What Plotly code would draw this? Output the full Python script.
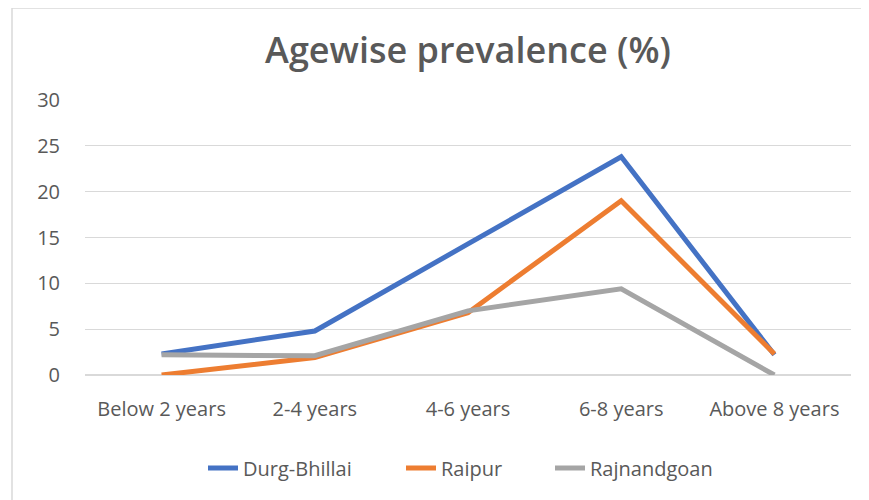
import plotly.graph_objects as go

categories = ["Below 2 years", "2-4 years", "4-6 years", "6-8 years", "Above 8 years"]
durg_bhillai = [2.3, 4.8, 14.3, 23.8, 2.2]
raipur = [0.0, 1.9, 6.8, 19.0, 2.3]
rajnandgoan = [2.2, 2.1, 7.0, 9.4, 0.0]

series = [("Durg-Bhillai", durg_bhillai, "#4472C4", "legend"),
          ("Raipur", raipur, "#ED7D31", "legend2"),
          ("Rajnandgoan", rajnandgoan, "#A5A5A5", "legend3")]

fig = go.Figure()
for name, vals, col, leg in series:
    fig.add_trace(go.Scatter(x=categories, y=vals, mode="lines", name=name, legend=leg,
                             line=dict(color=col, width=5)))

# page is offset 8px by body margin; layout numbers are in figure coordinates
W, H = 869, 500
ml, mr, mt, mb = 77, 26, 92, 133
pw, ph = W - ml - mr, H - mt - mb
FONT = "Open Sans, Lato, sans-serif"

leg_y = -(460 - (H - mb)) / ph
def legend_at(left_px):
    return dict(orientation="h", x=(left_px - ml) / pw, xanchor="left", y=leg_y, yanchor="middle",
                font=dict(size=20, color="#595959"), bgcolor="rgba(0,0,0,0)")

fig.update_layout(
    width=W, height=H,
    margin=dict(l=ml, r=mr, t=mt, b=mb, autoexpand=False),
    paper_bgcolor="white", plot_bgcolor="white",
    font=dict(family=FONT, size=20, color="#595959"),
    title=dict(text="Agewise prevalence (%)", xref="paper", x=0.5, xanchor="center",
               y=1 - 42 / H, yanchor="middle",
               font=dict(size=36, color="#595959", family=FONT, weight=600)),
    xaxis=dict(showgrid=False, showline=False, ticks="", zeroline=False,
               range=[-0.5, 4.5], tickfont=dict(size=20, color="#595959"),
               ticklabelstandoff=20),
    yaxis=dict(range=[0, 30], dtick=5, showgrid=True, gridcolor="#D9D9D9", gridwidth=1,
               zeroline=True, zerolinecolor="#D9D9D9", zerolinewidth=1.5, ticks="",
               ticklabelstandoff=24, tickfont=dict(size=20, color="#595959")),
    legend=legend_at(195),
    legend2=legend_at(393),
    legend3=legend_at(542),
    showlegend=True,
)

fig.add_shape(type="rect", xref="paper", yref="paper",
              x0=(4 - ml) / pw, x1=(855 - ml) / pw,
              y0=(H - mb - 499) / ph, y1=(H - mb - 0) / ph,
              line=dict(color="#D9D9D9", width=1.5), fillcolor="rgba(0,0,0,0)", layer="below")

fig.write_html("out.html")
